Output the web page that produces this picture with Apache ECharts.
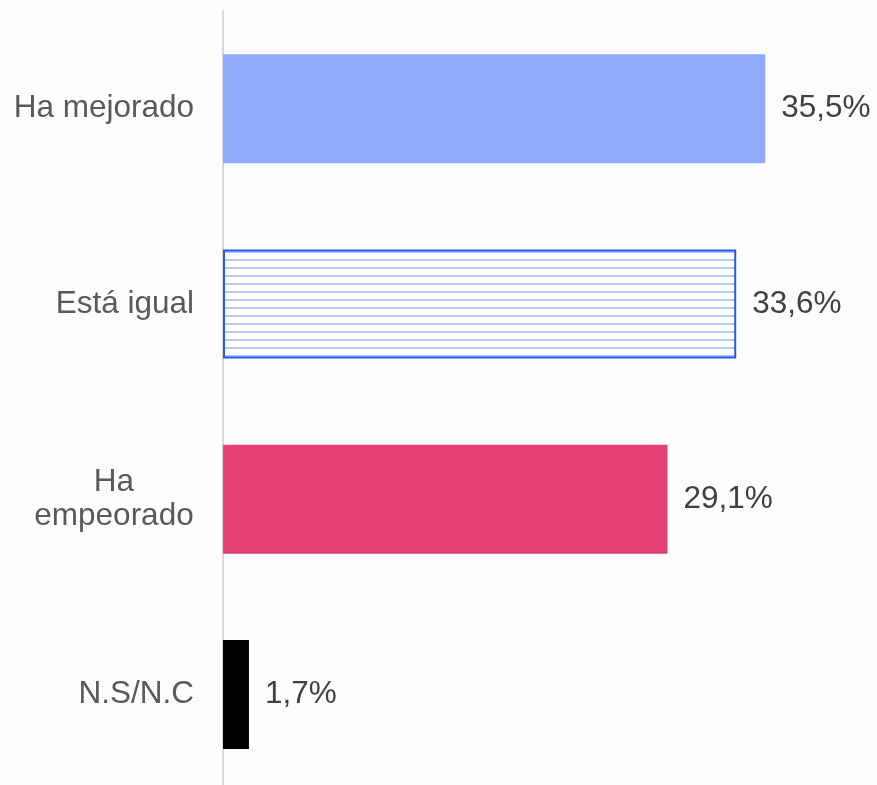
<!DOCTYPE html>
<html><head><meta charset="utf-8">
<script src="https://cdn.jsdelivr.net/npm/echarts@6/dist/echarts.min.js"></script>
<style>html,body{margin:0;padding:0;background:#fdfdfd;overflow:hidden;}#c{width:877px;height:810px;}</style>
</head><body><div id="c"></div>
<script>
var categories = ['Ha mejorado', 'Está igual', 'Ha empeorado', 'N.S/N.C'];
var values = [35.5, 33.6, 29.1, 1.7];
var xTicks = [0, 40];

var pc = document.createElement('canvas');
pc.width = 8; pc.height = 8;
var g = pc.getContext('2d');
g.fillStyle = '#ffffff'; g.fillRect(0, 0, 8, 8);
g.fillStyle = '#b6c7fa'; g.fillRect(0, 3, 8, 2);

var styles = [
  {color: '#8fabfd'},
  {color: {image: pc, repeat: 'repeat'}, borderColor: '#1f5af2', borderWidth: 2},
  {color: '#e33f70'},
  {color: '#000000'}
];

var FONT = 'Liberation Sans, Arial, sans-serif';
var chart = echarts.init(document.getElementById('c'));
chart.setOption({
  backgroundColor: '#fdfdfd',
  animation: false,
  grid: {left: 223, right: 43, top: 11, height: 781},
  xAxis: {type: 'value', min: xTicks[0], max: xTicks[1], show: false, splitLine: {show: false}},
  yAxis: {
    type: 'category', inverse: true, data: categories,
    axisLine: {show: true, lineStyle: {color: '#d9d9d9', width: 2}},
    axisTick: {show: false},
    axisLabel: {
      margin: 29, color: '#595959', fontSize: 31.5, fontFamily: FONT,
      formatter: function (v) {
        if (v === 'Ha empeorado') return '{c|Ha}\n{c|empeorado}';
        return v;
      },
      rich: {c: {width: 160, align: 'center', fontSize: 31.5, color: '#595959', lineHeight: 34, fontFamily: FONT}}
    }
  },
  series: [{
    type: 'bar', barWidth: 109,
    data: values.map(function (v, i) { return {value: v, itemStyle: styles[i]}; }),
    label: {
      show: true, position: 'right', distance: 16, color: '#404040', fontSize: 31.5,
      fontFamily: FONT,
      formatter: function (p) { return String(p.value).replace('.', ',') + '%'; }
    }
  }]
});
</script></body></html>
